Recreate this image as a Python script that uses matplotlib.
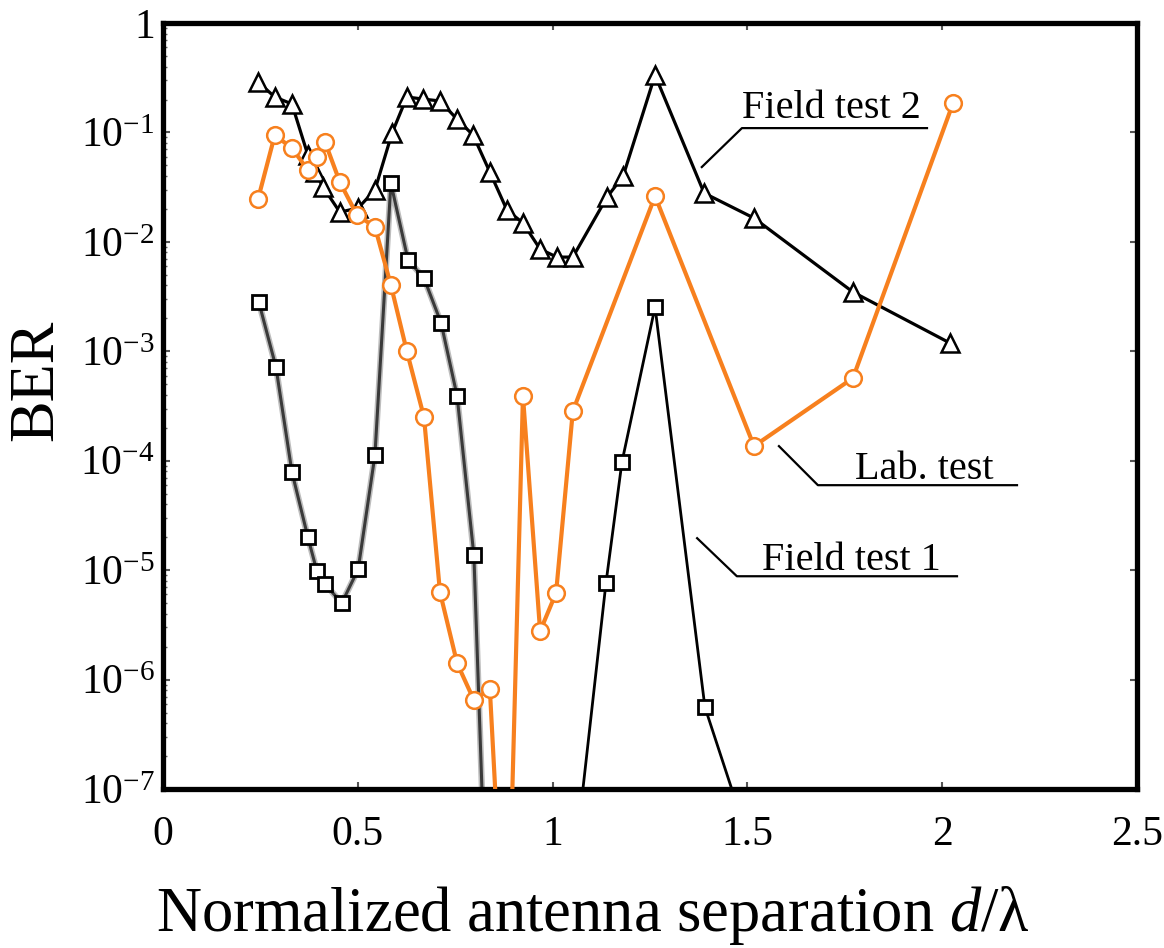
import numpy as np
import matplotlib
matplotlib.use("Agg")
import matplotlib.pyplot as plt
from matplotlib.ticker import FixedLocator, LogLocator, NullFormatter

plt.rcParams['font.family'] = ['Liberation Serif', 'DejaVu Serif']
plt.rcParams['mathtext.fontset'] = 'custom'
plt.rcParams['mathtext.rm'] = 'Liberation Serif'
plt.rcParams['mathtext.it'] = 'Liberation Serif:italic'

# Field test 2 (triangles)
ft2_x = [0.244, 0.287, 0.331, 0.372, 0.390, 0.411, 0.454, 0.501, 0.544, 0.588,
         0.626, 0.667, 0.711, 0.755, 0.796, 0.839, 0.883, 0.924, 0.968, 1.011,
         1.052, 1.140, 1.181, 1.263, 1.389, 1.517, 1.771, 2.020]
ft2_y = [0.289, 0.211, 0.182, 0.0621, 0.0435, 0.0317, 0.0187, 0.0204, 0.0298, 0.0988,
         0.211, 0.202, 0.194, 0.132, 0.0946, 0.0435, 0.0195, 0.0149, 0.00859, 0.00726,
         0.00726, 0.0257, 0.0399, 0.335, 0.0279, 0.0165, 0.00348, 0.00119]

# Lab. test (circles)
lab_x = [0.244, 0.287, 0.331, 0.372, 0.395, 0.416, 0.454, 0.498, 0.544, 0.585,
         0.626, 0.670, 0.711, 0.755, 0.798, 0.839, 0.882, 0.924, 0.968, 1.009,
         1.052, 1.263, 1.517, 1.771, 2.028]
lab_y = [0.0246, 0.0946, 0.072, 0.0453, 0.0596, 0.0817, 0.0352, 0.0176, 0.0137, 0.00403,
         0.00100, 0.00025, 6.3e-6, 1.41e-6, 6.5e-7, 8.2e-7, 1.1e-9, 3.9e-4, 2.77e-6, 6.2e-6,
         2.84e-4, 0.0262, 1.36e-4, 5.7e-4, 0.186]

# Field test 1 (squares), first part
ft1a_x = [0.246, 0.290, 0.331, 0.372, 0.395, 0.416, 0.459, 0.501, 0.544, 0.585,
          0.629, 0.670, 0.714, 0.755, 0.798, 0.839]
ft1a_y = [2.82e-3, 7.18e-4, 7.9e-5, 2.0e-5, 9.8e-6, 7.45e-6, 5.0e-6, 1.02e-5, 1.12e-4, 0.0345,
          6.82e-3, 4.67e-3, 1.81e-3, 3.9e-4, 1.37e-5, 8e-10]
# Field test 1, second part
ft1b_x = [1.052, 1.137, 1.178, 1.263, 1.391, 1.517]
ft1b_y = [1.5e-8, 7.6e-6, 9.7e-5, 2.54e-3, 5.6e-7, 2.4e-8]

xticks = [0, 0.5, 1, 1.5, 2, 2.5]
xtick_labels = ['0', '0.5', '1', '1.5', '2', '2.5']
yticks = [1e-7, 1e-6, 1e-5, 1e-4, 1e-3, 1e-2, 1e-1, 1]
ytick_labels = ['$10^{-7}$', '$10^{-6}$', '$10^{-5}$', '$10^{-4}$',
                '$10^{-3}$', '$10^{-2}$', '$10^{-1}$', '1']

orange = '#F7801E'

fig = plt.figure(figsize=(11.64, 9.48), dpi=100)
ax = fig.add_axes([0.140, 0.1677, 0.8368, 0.808])

# Field test 1: blurred gray first part
ax.plot(ft1a_x, ft1a_y, color='#bdbdbd', lw=4.5, zorder=1, solid_capstyle='round')
ax.plot(ft1a_x, ft1a_y, color='#3a3a3a', lw=2.2, marker='s', ms=10,
        mfc='white', mec='black', mew=2, zorder=1.5)
ax.plot(ft1b_x, ft1b_y, color='black', lw=2, marker='s', ms=10,
        mfc='white', mec='black', mew=2, zorder=1.5)

# Field test 2
ax.plot(ft2_x, ft2_y, color='black', lw=2.3, marker='^', ms=13,
        mfc='white', mec='black', mew=1.8, zorder=2)

# Lab. test
ax.plot(lab_x, lab_y, color=orange, lw=3, marker='o', ms=12,
        mfc='white', mec=orange, mew=1.8, zorder=3)

ax.set_yscale('log')
ax.set_xlim(0, 2.5)
ax.set_ylim(1e-7, 1)

ax.xaxis.set_major_locator(FixedLocator(xticks))
ax.set_xticklabels(xtick_labels)
ax.yaxis.set_major_locator(FixedLocator(yticks))
ax.set_yticklabels(ytick_labels)
ax.yaxis.set_minor_locator(LogLocator(base=10, subs=np.arange(2, 10), numticks=20))
ax.yaxis.set_minor_formatter(NullFormatter())

ax.tick_params(axis='both', which='major', direction='in', length=5, width=1.5,
               color='#555555', labelsize=30, top=True, right=True)
ax.tick_params(axis='y', which='minor', direction='in', length=3, width=1,
               color='#666666', left=True, right=False)
ax.tick_params(axis='x', which='major', pad=19)
ax.tick_params(axis='y', which='major', pad=6)

for sp in ax.spines.values():
    sp.set_linewidth(3.8)
    sp.set_color('black')

ax.set_ylabel('BER', fontsize=45, labelpad=10, y=0.534)
ax.set_xlabel('Normalized antenna separation $\\mathit{d}$/λ', fontsize=45,
              labelpad=22, x=0.441)

# labels with leader lines
def label(text, p_tip, p_corner, x_end, p_text):
    ax.plot([p_tip[0], p_corner[0], x_end], [p_tip[1], p_corner[1], p_corner[1]],
            color='black', lw=1.6, zorder=4, clip_on=False)
    ax.text(p_text[0], p_text[1], text, fontsize=29, ha='left', va='baseline', zorder=4)

label('Field test 2', (1.383, 0.0483), (1.486, 0.1096), 1.961, (1.486, 0.135))
label('Lab. test', (1.581, 1.36e-4), (1.681, 5.98e-5), 2.192, (1.776, 6.8e-5))
label('Field test 1', (1.371, 1.96e-5), (1.473, 8.8e-6), 2.038, (1.537, 1.0e-5))

fig.savefig('out.png', dpi=100)
